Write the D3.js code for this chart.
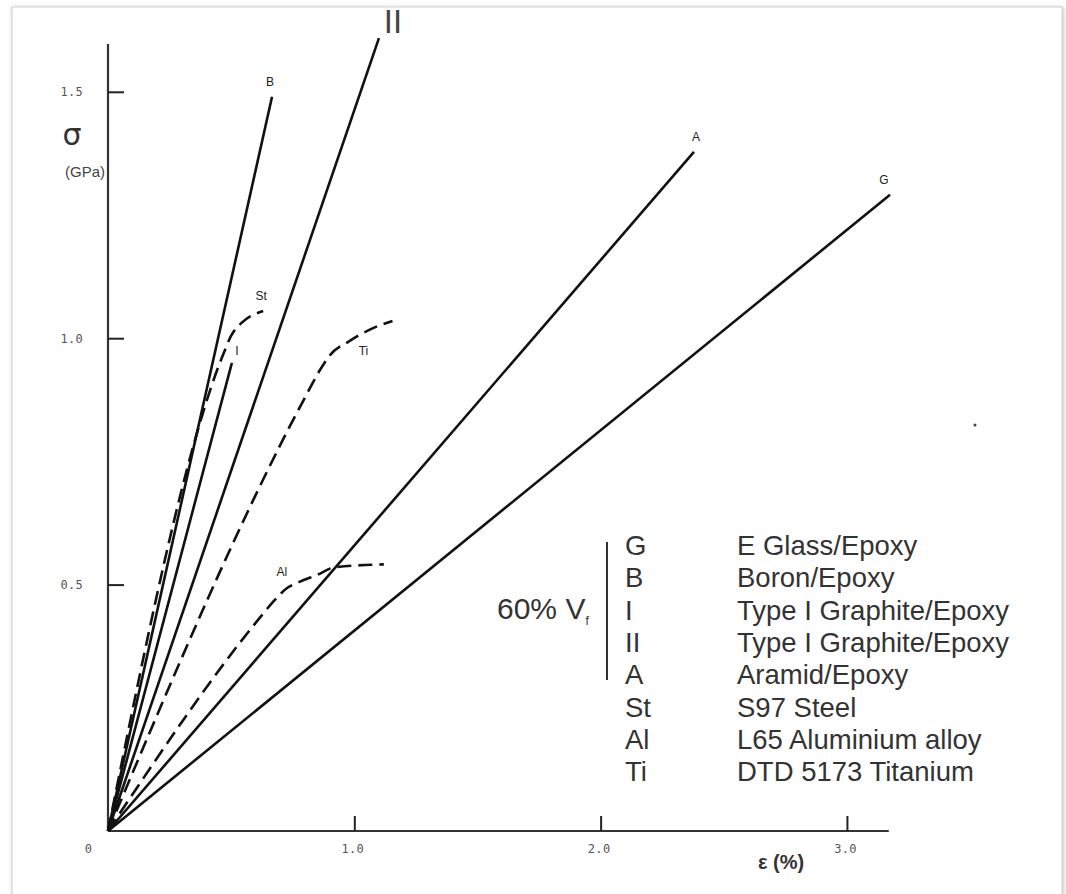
<!DOCTYPE html>
<html>
<head>
<meta charset="utf-8">
<script src="https://cdn.jsdelivr.net/npm/d3@7"></script>
<style>
  html, body { margin: 0; padding: 0; background: #ffffff; }
  svg { display: block; }
</style>
</head>
<body>
<svg id="chart" width="1066" height="894"></svg>
<script>
// ---------- data ----------
const xTicks = [0, 1, 2, 3];
const xTickLabels = ["0", "1.0", "2.0", "3.0"];
const yTicks = [0.5, 1.0, 1.5];
const yTickLabels = ["0.5", "1.0", "1.5"];

// strain (%) and stress (GPa) for each curve
const strainB  = [0, 0.666];  const stressB  = [0, 1.490];
const strainII = [0, 1.100];  const stressII = [0, 1.609];
const strainA  = [0, 2.379];  const stressA  = [0, 1.378];
const strainG  = [0, 3.175];  const stressG  = [0, 1.291];
const strainI  = [0, 0.503];  const stressI  = [0, 0.950];
const strainSt = [0, 0.47, 0.50, 0.54, 0.63];
const stressSt = [0, 0.97, 1.005, 1.03, 1.055];
const strainTi = [0, 0.80, 0.86, 0.90, 0.98, 1.065, 1.155];
const stressTi = [0, 0.88, 0.935, 0.965, 0.994, 1.018, 1.035];
const strainAl = [0, 0.62, 0.67, 0.73, 0.78, 0.85, 0.92, 1.12];
const stressAl = [0, 0.435, 0.465, 0.494, 0.506, 0.52, 0.535, 0.541];

const seriesNames = ["B", "II", "A", "G", "I", "St", "Ti", "Al"];
const legendCodes = ["G", "B", "I", "II", "A", "St", "Al", "Ti"];
const legendNames = ["E Glass/Epoxy", "Boron/Epoxy", "Type I Graphite/Epoxy", "Type I Graphite/Epoxy",
                     "Aramid/Epoxy", "S97 Steel", "L65 Aluminium alloy", "DTD 5173 Titanium"];

// ---------- drawing ----------
const svg = d3.select("#chart");

// framed picture with soft shadow
const defs = svg.append("defs");
const f = defs.append("filter").attr("id", "shadow").attr("x", "-5%").attr("y", "-5%").attr("width", "110%").attr("height", "110%");
f.append("feDropShadow").attr("dx", 1).attr("dy", 1).attr("stdDeviation", 2).attr("flood-color", "#888").attr("flood-opacity", 0.55);
svg.append("rect").attr("x", 12).attr("y", 7).attr("width", 1050).attr("height", 905)
  .attr("fill", "#fff").attr("stroke", "#d0d0d0").attr("stroke-width", 1).attr("filter", "url(#shadow)");

const x = d3.scaleLinear().domain([0, 3.17]).range([108, 888.8]);
const y = d3.scaleLinear().domain([0, 1.597]).range([831, 44]);

// axes
const xAxis = d3.axisBottom(x).tickValues(xTicks).tickSize(-15).tickPadding(13)
  .tickFormat((d, i) => xTickLabels[i]);
const gx = svg.append("g").attr("transform", `translate(0,${y(0)})`).call(xAxis);
gx.select(".domain").attr("d", `M${x(0)},0H${x(3.17)}`).attr("stroke", "#333").attr("stroke-width", 2.2);
gx.selectAll(".tick line").attr("stroke", "#222").attr("stroke-width", 2).filter(d => d === 0).remove();
gx.selectAll(".tick text").attr("font-family", "'DejaVu Sans Mono', monospace").attr("font-size", 12)
  .attr("fill", "#555").attr("letter-spacing", "0.3")
  .attr("dx", d => d === 0 ? -20 : -2);

const yAxis = d3.axisLeft(y).tickValues(yTicks).tickSize(-16).tickPadding(25)
  .tickFormat((d, i) => yTickLabels[i]);
const gy = svg.append("g").attr("transform", `translate(${x(0)},0)`).call(yAxis);
gy.select(".domain").attr("d", `M0,${y(0)}V${y(1.597)}`).attr("stroke", "#333").attr("stroke-width", 2.2);
gy.selectAll(".tick line").attr("stroke", "#222").attr("stroke-width", 2);
gy.selectAll(".tick text").attr("font-family", "'DejaVu Sans Mono', monospace").attr("font-size", 12)
  .attr("fill", "#555").attr("letter-spacing", "0.3");

// axis titles
svg.append("text").attr("x", 72).attr("y", 145).attr("text-anchor", "middle")
  .attr("font-family", "'DejaVu Sans', sans-serif").attr("font-size", 30).attr("fill", "#333").text("σ");
svg.append("text").attr("x", 85).attr("y", 177).attr("text-anchor", "middle")
  .attr("font-family", "'Liberation Sans', Arial, sans-serif").attr("font-size", 15).attr("fill", "#444").text("(GPa)");
svg.append("text").attr("x", 781).attr("y", 869).attr("text-anchor", "middle")
  .attr("font-family", "'Liberation Sans Narrow', 'Liberation Sans', sans-serif").attr("font-size", 20)
  .attr("font-weight", "bold").attr("fill", "#333").text("ε (%)");

// curves
const mk = (sx, sy) => sx.map((v, i) => [v, sy[i]]);
const series = {
  B: mk(strainB, stressB), II: mk(strainII, stressII), A: mk(strainA, stressA), G: mk(strainG, stressG),
  I: mk(strainI, stressI), St: mk(strainSt, stressSt), Ti: mk(strainTi, stressTi), Al: mk(strainAl, stressAl)
};
const dashed = { St: true, Ti: true, Al: true };
const line = d3.line().x(d => x(d[0])).y(d => y(d[1])).curve(d3.curveMonotoneX);

seriesNames.forEach(name => {
  svg.append("path").datum(series[name]).attr("d", line)
    .attr("fill", "none").attr("stroke", "#111").attr("stroke-width", 2.6)
    .attr("stroke-linecap", "butt")
    .attr("stroke-dasharray", dashed[name] ? "14,7" : null);
});

// curve labels (offsets from each curve's last point)
const labelOffsets = { B: [-2, -11], A: [2, -11], G: [-6, -11], St: [-2, -11], I: [5, -8], Ti: [-29, 34], Al: [-102, 12] };
Object.keys(labelOffsets).forEach(name => {
  const last = series[name][series[name].length - 1];
  svg.append("text").attr("x", x(last[0]) + labelOffsets[name][0]).attr("y", y(last[1]) + labelOffsets[name][1])
    .attr("text-anchor", "middle").attr("font-family", "'Liberation Sans', sans-serif")
    .attr("font-size", 12).attr("fill", "#222").text(name);
});
const lastII = series.II[series.II.length - 1];
svg.append("text").attr("x", x(lastII[0]) + 14).attr("y", y(lastII[1]) - 5).attr("text-anchor", "middle")
  .attr("font-family", "'Liberation Sans', sans-serif").attr("font-size", 33).attr("fill", "#444").text("II");

// legend
const lg = svg.append("g").attr("font-family", "'Liberation Sans', Arial, sans-serif").attr("fill", "#333");
const rowY = i => 555 + i * 32.3;
legendCodes.forEach((c, i) => {
  lg.append("text").attr("x", 625).attr("y", rowY(i)).attr("font-size", 27.5).text(c);
  lg.append("text").attr("x", 737).attr("y", rowY(i)).attr("font-size", 27.5).text(legendNames[i]);
});
lg.append("line").attr("x1", 607).attr("x2", 607).attr("y1", 542).attr("y2", 680)
  .attr("stroke", "#333").attr("stroke-width", 2);
const vf = lg.append("text").attr("x", 497).attr("y", 619).attr("font-size", 30);
vf.append("tspan").text("60% V");
vf.append("tspan").attr("font-size", 12).attr("dy", 6).text("f");

// stray dot in the picture
svg.append("circle").attr("cx", 975).attr("cy", 425).attr("r", 1.5).attr("fill", "#444");
</script>
</body>
</html>
